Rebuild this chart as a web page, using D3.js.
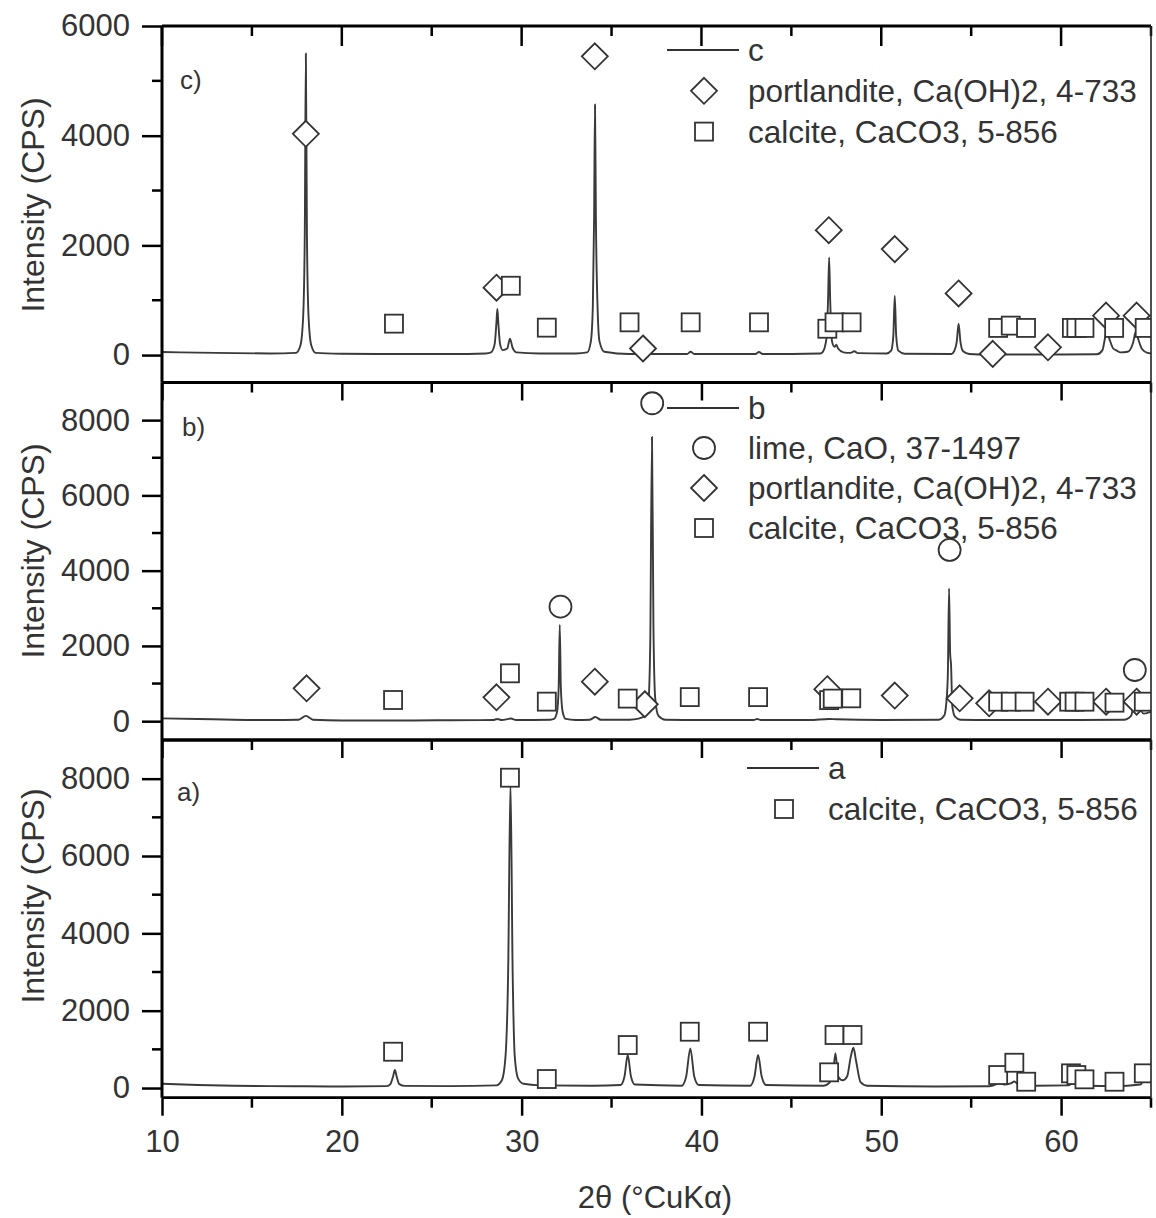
<!DOCTYPE html>
<html>
<head>
<meta charset="utf-8">
<script src="https://cdn.jsdelivr.net/npm/d3@7"></script>
<style>
  html, body { margin: 0; padding: 0; background: #fff; }
  svg { display: block; }
  text { font-family: "Liberation Sans", Arial, sans-serif; fill: #333; }
</style>
</head>
<body>
<svg id="chart" width="1156" height="1218"></svg>
<script>
// ---------------- DATA (2θ in degrees, intensity in CPS) ----------------
const xTickLabels = [10, 20, 30, 40, 50, 60];
const xMinorTicks = [15, 25, 35, 45, 55, 65];

// sample c: trace
const traceC = [
  [10,55],[12,45],[14,35],[16,30],[17.45,40],[17.7,180],[17.85,700],[17.94,2200],[18.0,5500],[18.06,2200],[18.15,700],[18.3,180],[18.55,40],
  [20,25],[22,20],[24,20],[26,20],[28.0,30],[28.3,50],[28.5,200],[28.6,600],[28.65,840],[28.7,600],[28.8,200],[28.95,90],
  [29.2,120],[29.35,300],[29.5,130],[29.7,50],[31,30],[33,30],[33.65,50],[33.85,250],[33.96,900],[34.03,2500],[34.08,4570],[34.13,2500],[34.22,900],[34.33,250],[34.6,60],
  [36,20],[39.2,20],[39.4,60],[39.6,20],[43.0,20],[43.2,55],[43.4,20],[46.6,30],
  [46.75,60],[46.95,300],[47.04,1000],[47.1,1780],[47.16,1000],[47.26,250],[47.4,150],[47.5,190],[47.6,120],[47.9,50],[48.3,40],[48.5,70],[48.7,35],
  [50.3,30],[50.55,80],[50.67,350],[50.75,1080],[50.83,350],[50.95,80],[51.3,25],
  [53.9,20],[54.05,70],[54.2,250],[54.3,570],[54.4,250],[54.55,70],[54.9,20],
  [56,10],[57.5,10],[60,10],[62.0,15],[62.3,90],[62.45,320],[62.55,430],[62.7,280],[62.9,120],[63.1,80],[63.3,50],[63.7,60],[64.0,220],[64.15,420],[64.3,280],[64.5,110],[64.8,40],[65,30]
];
const calciteC = [[22.9,573],[29.4,1264],[31.4,500],[36.0,597],[39.4,597],[43.2,597],[47.0,480],[47.4,597],[48.35,597],[56.5,495],[57.2,537],[58.05,495],[60.6,495],[60.85,495],[61.3,495],[62.95,495],[64.65,495]];
const portlanditeC = [[18.0,4035],[28.6,1228],[34.07,5448],[36.75,120],[47.08,2277],[50.75,1932],[54.3,1124],[56.2,22],[59.27,142],[62.5,719],[64.2,719]];

// sample b: trace
const traceB = [
  [10,75],[12,60],[14,40],[16,30],[17.6,40],[18.0,140],[18.4,40],[20,20],[22,20],[24,20],[26,25],[28.4,30],[28.65,60],[28.9,30],[29.4,70],[29.7,30],
  [31.6,40],[31.8,60],[31.97,250],[32.06,900],[32.12,2560],[32.18,900],[32.28,250],[32.45,60],[33,30],[33.8,40],[34.1,110],[34.4,40],
  [36.0,40],[36.5,70],[36.9,150],[37.05,500],[37.15,2000],[37.25,7550],[37.33,2500],[37.43,600],[37.6,150],[38,40],
  [40,30],[42.9,30],[43.1,60],[43.3,30],[46,30],[47.1,60],[47.5,50],[50,30],
  [53.2,40],[53.5,150],[53.6,400],[53.7,1200],[53.77,3530],[53.83,1800],[53.88,1500],[53.95,400],[54.1,120],[54.4,40],
  [56,30],[60,30],[63.5,40],[63.9,150],[64.05,500],[64.2,820],[64.35,450],[64.6,200],[65,250]
];
const limeB = [[32.16,3043],[37.26,8448],[53.8,4550],[64.1,1360]];
const portlanditeB = [[18.04,874],[28.6,635],[34.07,1050],[36.85,450],[47.0,850],[50.75,680],[54.36,608],[56.0,475],[59.27,518],[62.5,518],[64.2,518]];
const calciteB = [[22.85,563],[29.35,1272],[31.4,519],[35.9,600],[39.35,640],[43.15,640],[47.1,560],[47.3,600],[48.33,608],[56.5,518],[57.2,518],[57.97,518],[60.45,518],[60.75,518],[61.3,518],[62.97,492],[64.6,518]];

// sample a: trace
const traceA = [
  [10,110],[12,80],[14,60],[16,50],[18,45],[20,40],[22.5,50],[22.7,100],[22.85,300],[22.95,465],[23.05,300],[23.2,100],[23.5,55],
  [26,50],[28.6,70],[28.9,200],[29.1,800],[29.25,3000],[29.38,7900],[29.5,3000],[29.62,800],[29.8,250],[30.1,110],[31,70],
  [34,60],[35.5,80],[35.72,300],[35.9,853],[36.08,300],[36.3,90],[38.9,60],[39.15,300],[39.38,1026],[39.6,300],[39.85,80],
  [42.7,60],[42.95,300],[43.15,853],[43.35,300],[43.6,80],[46.8,60],[47.1,130],[47.3,300],[47.45,900],[47.6,300],[47.85,200],
  [48.1,300],[48.3,800],[48.45,1040],[48.6,700],[48.85,150],[49.2,60],[53,40],[56,45],[56.4,100],[56.6,150],[56.8,90],
  [57.2,120],[57.4,170],[57.6,100],[58,60],[60.4,70],[60.7,140],[61.0,80],[61.4,60],[63,50],[64.4,90],[64.7,250],[65,150]
];
const calciteA = [[22.85,939],[29.35,8025],[31.4,233],[35.9,1112],[39.35,1456],[43.15,1456],[47.1,406],[47.4,1371],[48.4,1371],[56.5,336],[57.4,654],[58.06,163],[60.55,380],[60.85,336],[61.3,225],[62.97,163],[64.6,380]];

const yTicksC = [0, 2000, 4000, 6000];
const yMinorC = [1000, 3000, 5000];
const yTicksAB = [0, 2000, 4000, 6000, 8000];
const yMinorAB = [1000, 3000, 5000, 7000];

const legendC = [["line","c"],["diamond","portlandite, Ca(OH)2, 4-733"],["square","calcite, CaCO3, 5-856"]];
const legendB = [["line","b"],["circle","lime, CaO, 37-1497"],["diamond","portlandite, Ca(OH)2, 4-733"],["square","calcite, CaCO3, 5-856"]];
const legendA = [["line","a"],["square","calcite, CaCO3, 5-856"]];

// ---------------- LAYOUT ----------------
const svg = d3.select("#chart");
const X0 = 162, X1 = 1151;
const x = d3.scaleLinear().domain([10, 65]).range([X0, X1]);
const INK = "#333";
const SANS = '"Liberation Sans", Arial, sans-serif';

const panels = [
  { name:"c", top:26, bottom:382.5, domain:[-500,6000], ticks:yTicksC, minor:yMinorC, trace:traceC,
    markers:{diamond:portlanditeC, square:calciteC}, legend:legendC, legX:667, legY:50, legStep:40.8,
    tag:"c)", tagX:180, tagY:80, tagFont:SANS, ylabY:205 },
  { name:"b", top:382.5, bottom:740, domain:[-500,9000], ticks:yTicksAB, minor:yMinorAB, trace:traceB,
    markers:{diamond:portlanditeB, square:calciteB, circle:limeB}, legend:legendB, legX:667, legY:408, legStep:40,
    tag:"b)", tagX:182, tagY:427, tagFont:'"Liberation Serif", "Times New Roman", serif', ylabY:551 },
  { name:"a", top:740, bottom:1097.7, domain:[-250,9000], ticks:yTicksAB, minor:yMinorAB, trace:traceA,
    markers:{square:calciteA}, legend:legendA, legX:747, legY:768, legStep:41,
    tag:"a)", tagX:177, tagY:792, tagFont:'"DejaVu Serif", serif', ylabY:896 }
];

function drawSymbol(g, type, cx, cy) {
  if (type === "square") {
    g.append("rect").attr("x", cx-9).attr("y", cy-9).attr("width", 18).attr("height", 18)
      .attr("fill", "#fff").attr("stroke", INK).attr("stroke-width", 1.8);
  } else if (type === "diamond") {
    g.append("path").attr("d", `M${cx},${cy-13}L${cx+13},${cy}L${cx},${cy+13}L${cx-13},${cy}Z`)
      .attr("fill", "#fff").attr("stroke", INK).attr("stroke-width", 1.8);
  } else if (type === "circle") {
    g.append("circle").attr("cx", cx).attr("cy", cy).attr("r", 11)
      .attr("fill", "#fff").attr("stroke", INK).attr("stroke-width", 1.8);
  }
}

panels.forEach((p, i) => {
  const y = d3.scaleLinear().domain(p.domain).range([p.bottom, p.top]);
  const g = svg.append("g");

  const clipId = "clip-" + p.name;
  svg.append("clipPath").attr("id", clipId).append("rect")
    .attr("x", X0).attr("y", p.top).attr("width", X1 - X0).attr("height", p.bottom - p.top);

  const plot = g.append("g").attr("clip-path", `url(#${clipId})`);

  // trace
  const line = d3.line().x(d => x(d[0])).y(d => y(d[1])).curve(d3.curveMonotoneX);
  plot.append("path").datum(p.trace).attr("d", line)
    .attr("fill", "none").attr("stroke", "#3a3a3a").attr("stroke-width", 1.9).attr("stroke-linejoin", "round");

  // markers: diamonds, then squares, then circles
  ["diamond", "square", "circle"].forEach(t => {
    (p.markers[t] || []).forEach(d => drawSymbol(plot, t, x(d[0]), y(d[1])));
  });

  // left axis
  const yAxis = d3.axisLeft(y).tickValues(p.ticks).tickSize(20).tickPadding(12).tickFormat(d3.format("d"));
  const ya = g.append("g").attr("transform", `translate(${X0},0)`).call(yAxis);
  ya.select(".domain").remove();
  ya.selectAll(".tick line").attr("stroke", "#000").attr("stroke-width", 2.5);
  ya.selectAll(".tick text").attr("font-size", 31).attr("fill", "#3a3a3a").attr("font-family", SANS);
  g.append("g").selectAll("line").data(p.minor).join("line")
    .attr("x1", X0 - 10).attr("x2", X0).attr("y1", d => y(d)).attr("y2", d => y(d))
    .attr("stroke", "#000").attr("stroke-width", 2.5);

  // bottom axis ticks (outward)
  const xb = g.append("g").attr("transform", `translate(0,${p.bottom})`)
    .call(d3.axisBottom(x).tickValues(xTickLabels).tickSize(18).tickPadding(14).tickFormat(d3.format("d")));
  xb.select(".domain").remove();
  xb.selectAll(".tick line").attr("stroke", "#000").attr("stroke-width", 2.5);
  if (i < panels.length - 1) xb.selectAll(".tick text").remove();
  else xb.selectAll(".tick text").attr("font-size", 31).attr("fill", "#3a3a3a").attr("font-family", SANS);
  g.append("g").selectAll("line").data(xMinorTicks).join("line")
    .attr("x1", d => x(d)).attr("x2", d => x(d)).attr("y1", p.bottom).attr("y2", p.bottom + 10)
    .attr("stroke", "#000").attr("stroke-width", 2.5);

  // top ticks (inward) for first panel
  if (i === 0) {
    g.append("g").selectAll("line").data(xTickLabels).join("line")
      .attr("x1", d => x(d)).attr("x2", d => x(d)).attr("y1", p.top).attr("y2", p.top + 20)
      .attr("stroke", "#000").attr("stroke-width", 2.5);
    g.append("g").selectAll("line").data(xMinorTicks).join("line")
      .attr("x1", d => x(d)).attr("x2", d => x(d)).attr("y1", p.top).attr("y2", p.top + 10)
      .attr("stroke", "#000").attr("stroke-width", 2.5);
  }

  // frame
  g.append("line").attr("x1", X0).attr("x2", X0).attr("y1", p.top).attr("y2", p.bottom)
    .attr("stroke", "#000").attr("stroke-width", 3);
  g.append("line").attr("x1", X0).attr("x2", X1).attr("y1", p.top).attr("y2", p.top)
    .attr("stroke", "#000").attr("stroke-width", 2.8);
  g.append("line").attr("x1", X0).attr("x2", X1).attr("y1", p.bottom).attr("y2", p.bottom)
    .attr("stroke", "#000").attr("stroke-width", 2.8);
  g.append("line").attr("x1", X1).attr("x2", X1).attr("y1", p.top).attr("y2", p.bottom)
    .attr("stroke", "#222").attr("stroke-width", 1.6);

  // panel tag
  g.append("text").attr("x", p.tagX).attr("y", p.tagY).attr("dominant-baseline", "central")
    .attr("font-size", 26).attr("font-family", p.tagFont).attr("fill", "#222").text(p.tag);

  // y label
  g.append("text").attr("transform", `translate(33,${p.ylabY}) rotate(-90)`)
    .attr("text-anchor", "middle").attr("dominant-baseline", "central")
    .attr("font-size", 32).attr("fill", "#3a3a3a").text("Intensity (CPS)");

  // legend
  p.legend.forEach((row, k) => {
    const cy = p.legY + k * p.legStep;
    const lx = p.legX;
    if (row[0] === "line") {
      g.append("line").attr("x1", lx).attr("x2", lx + 72).attr("y1", cy).attr("y2", cy)
        .attr("stroke", INK).attr("stroke-width", 1.8);
    } else {
      drawSymbol(g, row[0], lx + 37, cy);
    }
    g.append("text").attr("x", lx + 81).attr("y", cy).attr("dominant-baseline", "central")
      .attr("font-size", 31.5).attr("fill", "#2a2a2a").text(row[1]);
  });
});

// x label
svg.append("text").attr("x", 655).attr("y", 1197).attr("text-anchor", "middle")
  .attr("dominant-baseline", "central").attr("font-size", 31).attr("fill", "#2a2a2a")
  .text("2θ (°CuKα)");
</script>
</body>
</html>
